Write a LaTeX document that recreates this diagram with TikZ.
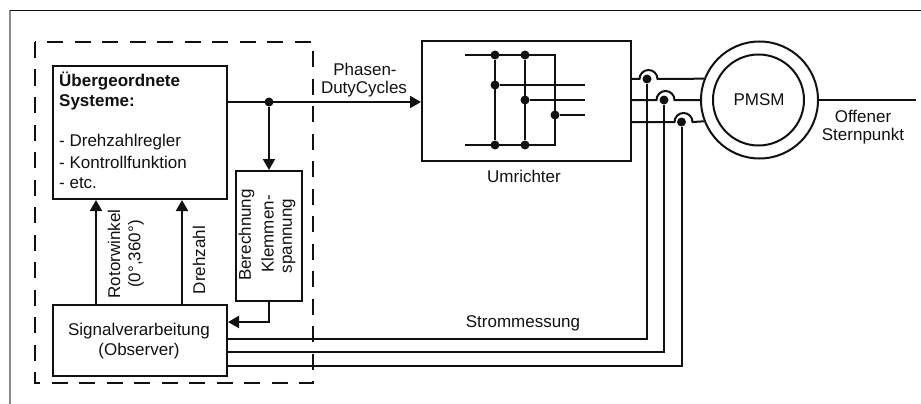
\documentclass[tikz,border=0pt]{standalone}
\usepackage{fontspec}
\setmainfont{Liberation Sans}
\usetikzlibrary{arrows.meta}
\definecolor{ink}{HTML}{111111}
\tikzset{
  x=1pt,y=-1pt,
  wire/.style={draw=ink,line width=2pt},
  lab/.style={font=\fontsize{17}{20}\selectfont,inner sep=0pt,align=center,text=ink},
  blab/.style={font=\fontsize{17}{20}\selectfont\bfseries,inner sep=0pt,text=ink},
  dot/.style={circle,fill=ink,inner sep=0pt,minimum size=9pt},
  tip/.style={-{Triangle[length=11pt,width=12pt]}},
  block/.style={draw=ink,line width=2pt,anchor=north west,inner sep=0pt},
  ring/.style={circle,draw=ink,line width=2pt,inner sep=0pt},
}
\begin{document}
\begin{tikzpicture}
\useasboundingbox (0,0) rectangle (921,404);
% outer frame
\draw[draw=gray!90,line width=1.4pt] (10,10.5) -- (10,404);
\draw[draw=ink,line width=1pt] (10,10.5) -- (921,10.5);
% dashed frame
\coordinate (dTL) at (35,42);\coordinate (dBR) at (313,383);
\draw[draw=ink,line width=2pt,dash pattern=on 16pt off 11.5pt] (dTL) rectangle (dBR);
% blocks
\node[block,minimum width=174pt,minimum height=133pt] (sys) at (52,65) {};
\node[block,minimum width=174pt,minimum height=71pt] (sig) at (52,304) {};
\node[block,minimum width=66pt,minimum height=130pt] (calc) at (235,170) {};
\node[block,minimum width=208.5pt,minimum height=120pt] (umr) at (421,40) {};
\node[ring,minimum size=117pt] (mot) at (759.5,100) {};
\node[ring,minimum size=91pt] (rot) at (758.5,100) {};
% labels
\node[blab,anchor=west] (t1) at (59,81) {Übergeordnete};
\node[blab,anchor=west] (t2) at (59,102) {Systeme:};
\node[lab,anchor=west] (t3) at (59,142) {- Drehzahlregler};
\node[lab,anchor=west] (t4) at (59,162) {- Kontrollfunktion};
\node[lab,anchor=west] (t5) at (59,183) {- etc.};
\node[lab] (t6) at (139,331) {Signalverarbeitung};
\node[lab] (t7) at (139,351) {(Observer)};
\node[lab,rotate=90] (t8) at (114,254) {Rotorwinkel};
\node[lab,rotate=90] (t9) at (136,254) {(0°,360°)};
\node[lab,rotate=90] (t10) at (199,260) {Drehzahl};
\node[lab,rotate=90] (t11) at (246.5,235) {Berechnung};
\node[lab,rotate=90] (t12) at (267.5,234) {Klemmen-};
\node[lab,rotate=90] (t13) at (289,236) {spannung};
\node[lab] (t14) at (365,69) {Phasen-};
\node[lab] (t15) at (364,89) {DutyCycles};
\node[lab] (t16) at (524,176) {Umrichter};
\node[lab] (t17) at (523,323) {Strommessung};
\node[lab] (t18) at (759,100) {PMSM};
\node[lab] (t19) at (863,116) {Offener};
\node[lab] (t20) at (863,136) {Sternpunkt};
% main signal
\node[dot] (j0) at (269,102) {};
\draw[wire,tip] (sys.east |- j0) -- (umr.west |- j0);
\draw[wire,tip] (j0) -- (j0 |- calc.north);
\coordinate (c1) at (269,322);
\draw[wire,tip] (calc.south -| j0) -- (c1) -- (sig.east |- c1);
\coordinate (u1) at (96,304);\coordinate (u2) at (182,304);
\draw[wire,tip] (u1) -- (u1 |- sys.south);
\draw[wire,tip] (u2) -- (u2 |- sys.south);
% inverter
\node[dot] (a1) at (495,55) {};
\node[dot] (a2) at (525,55) {};
\node[dot] (a3) at (495,85) {};
\node[dot] (a4) at (525,100) {};
\node[dot] (a5) at (555,115) {};
\node[dot] (a6) at (495,145) {};
\node[dot] (a7) at (525,145) {};
\coordinate (r1) at (465,55);\coordinate (r2) at (555,55);
\coordinate (r3) at (555,145);\coordinate (r4) at (465,145);
\coordinate (s1) at (585,85);\coordinate (s2) at (585,100);\coordinate (s3) at (585,115);
\draw[wire] (r1) -- (r2) -- (r3) -- (r4);
\draw[wire] (a1) -- (a6);
\draw[wire] (a2) -- (a7);
\draw[wire] (a3) -- (s1);
\draw[wire] (a4) -- (s2);
\draw[wire] (a5) -- (s3);
% phases and current measurement
\node[dot] (m1) at (647,79) {};
\node[dot] (m2) at (664,100) {};
\node[dot] (m3) at (681.5,122) {};
\draw[wire] (umr.east |- m1) -- ++(8,0) arc[start angle=180,end angle=360,radius=9] -- (mot.159.33);
\draw[wire] (umr.east |- m2) -- ++(25,0) arc[start angle=180,end angle=360,radius=9] -- (mot.180);
\draw[wire] (umr.east |- m3) -- ++(43,0) arc[start angle=180,end angle=360,radius=9] -- (mot.201.7);
\coordinate (k1) at (226,339);\coordinate (k2) at (226,352);\coordinate (k3) at (226,366);
\draw[wire] (k1) -| (m1);
\draw[wire] (k2) -| (m2);
\draw[wire] (k3) -| (m3);
% star point
\coordinate (star) at (916,100);
\draw[wire] (mot.east) -- (star);
\end{tikzpicture}
\end{document}
